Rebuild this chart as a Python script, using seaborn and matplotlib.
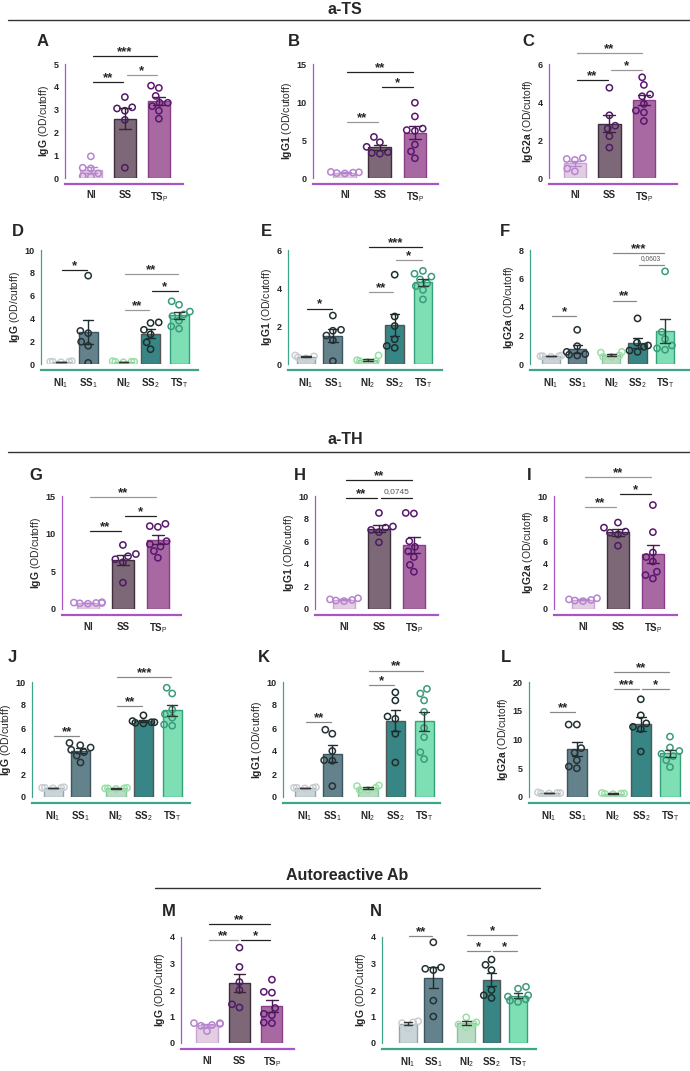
import warnings
import numpy as np
import pandas as pd
import matplotlib
matplotlib.use('Agg')
import matplotlib.pyplot as plt
import seaborn as sns
from matplotlib.ticker import MultipleLocator, AutoMinorLocator

warnings.filterwarnings('ignore')

# ---- data (individual animals, OD/cutoff) ----
labels3 = ['NI', 'SS', r'TS$_\mathrm{P}$']
labels5 = [r'NI$_1$', r'SS$_1$', r'NI$_2$', r'SS$_2$', r'TS$_\mathrm{T}$']
pos3 = [0, 1, 2]
pos5 = [0, 1, 2.3, 3.3, 4.35]

# a-TS
A_vals = [[0.95, 0.45, 0.42, 0.2, 0.05, 0.08],
          [3.55, 3.1, 3.05, 2.95, 2.55, 0.45],
          [4.05, 3.95, 3.6, 3.3, 3.3, 3.15, 2.95, 2.6]]
B_vals = [[0.8, 0.7, 0.65, 0.75, 0.6],
          [5.4, 4.7, 4.1, 3.4, 3.3, 3.2],
          [9.9, 8.1, 6.5, 6.3, 6.2, 4.4, 3.5, 2.6]]
C_vals = [[1.05, 1.0, 0.95, 0.5, 0.35],
          [4.75, 3.3, 2.75, 2.6, 2.2, 1.6],
          [5.3, 4.9, 4.4, 4.3, 3.9, 3.55, 3.45, 3.0]]
D_vals = [[0.25, 0.2, 0.2, 0.15, 0.2],
          [7.75, 2.9, 2.7, 1.95, 1.6, 0.1],
          [0.25, 0.2, 0.2, 0.15, 0.2],
          [3.65, 3.6, 3.0, 2.6, 1.9, 1.3],
          [5.5, 5.2, 4.6, 4.35, 4.2, 3.8, 3.3, 3.1]]
E_vals = [[0.45, 0.4, 0.35, 0.3],
          [2.55, 1.8, 1.75, 1.5, 1.25, 0.15],
          [0.45, 0.2, 0.15, 0.15, 0.1],
          [4.7, 2.5, 2.0, 1.3, 0.95, 0.85],
          [4.9, 4.75, 4.6, 4.45, 4.25, 4.1, 3.9, 3.4]]
F_vals = [[0.6, 0.55, 0.55, 0.5, 0.55],
          [2.4, 1.25, 0.85, 0.7, 0.65, 0.6],
          [0.85, 0.8, 0.6, 0.5, 0.5],
          [3.2, 1.5, 1.3, 1.2, 0.95, 0.85],
          [6.5, 2.25, 1.75, 1.3, 1.1, 1.0]]
# a-TH
G_vals = [[0.9, 0.85, 0.8, 0.8, 0.75, 0.7],
          [8.5, 7.3, 7.0, 6.6, 6.2, 3.5],
          [11.3, 11.0, 10.9, 9.0, 8.6, 8.3, 7.7, 6.8]]
H_vals = [[0.95, 0.85, 0.8, 0.75, 0.7],
          [8.5, 7.3, 7.2, 7.0, 6.8, 5.9],
          [8.5, 8.45, 6.0, 5.5, 5.1, 4.6, 3.9, 3.3]]
I_vals = [[0.95, 0.85, 0.8, 0.75, 0.7],
          [7.65, 7.2, 6.85, 6.75, 6.6, 5.6],
          [9.2, 6.8, 5.0, 4.6, 4.2, 3.3, 3.0, 2.7]]
J_vals = [[0.85, 0.8, 0.8, 0.75, 0.8],
          [4.7, 4.5, 4.3, 4.1, 3.9, 3.6, 3.0],
          [0.8, 0.75, 0.75, 0.7, 0.75],
          [7.1, 6.6, 6.5, 6.5, 6.45, 6.4],
          [9.5, 9.0, 7.6, 7.2, 6.9, 6.3, 6.2]]
K_vals = [[0.85, 0.8, 0.8, 0.75, 0.8],
          [5.85, 5.5, 4.0, 3.2, 3.15, 0.95],
          [1.0, 0.95, 0.8, 0.6, 0.6],
          [9.1, 8.4, 7.0, 6.8, 5.5, 3.0],
          [9.4, 9.0, 8.4, 7.4, 6.0, 5.2, 3.9, 3.3]]
L_vals = [[0.8, 0.7, 0.65, 0.7, 0.6],
          [12.6, 12.6, 8.5, 7.7, 6.4, 5.3, 5.0],
          [0.7, 0.6, 0.6, 0.55, 0.5],
          [17.0, 14.2, 12.8, 12.2, 11.8, 7.9],
          [10.5, 8.6, 8.0, 7.5, 7.1, 6.4, 5.2]]
# Autoreactive Ab
M_vals = [[0.75, 0.75, 0.72, 0.68, 0.65, 0.45],
          [3.6, 2.87, 2.3, 2.0, 1.46, 1.34],
          [2.39, 1.93, 1.9, 1.32, 1.1, 1.05, 0.77, 0.75]]
N_vals = [[0.82, 0.78, 0.75, 0.55],
          [3.8, 2.85, 2.8, 2.75, 1.6, 1.0],
          [0.97, 0.78, 0.72, 0.7, 0.6],
          [3.15, 2.95, 2.75, 2.0, 1.8, 1.7],
          [2.12, 2.05, 1.8, 1.75, 1.65, 1.6, 1.55]]

# significance bars: (group i, group j, height, label, line colour)
A_sig = [(0, 2, 5.35, '***', '#222'), (1, 2, 4.5, '*', '#999'), (0, 1, 4.2, '**', '#222')]
B_sig = [(0, 2, 13.9, '**', '#222'), (1, 2, 12.0, '*', '#222'), (0, 1, 7.4, '**', '#999')]
C_sig = [(0, 2, 6.6, '**', '#999'), (1, 2, 5.7, '*', '#999'), (0, 1, 5.15, '**', '#222')]
D_sig = [(0, 1, 8.26, '*', '#222'), (2, 4, 7.9, '**', '#999'), (3, 4, 6.4, '*', '#222'), (2, 3, 4.7, '**', '#999')]
E_sig = [(2, 4, 6.16, '***', '#222'), (3, 4, 5.47, '*', '#999'), (2, 3, 3.77, '**', '#999'), (0, 1, 2.92, '*', '#222')]
F_sig = [(2, 4, 7.8, '***', '#888'), (3, 4, 6.96, '0,0603', '#888'), (2, 3, 4.45, '**', '#888'), (0, 1, 3.34, '*', '#888')]
G_sig = [(0, 2, 14.9, '**', '#999'), (1, 2, 12.3, '*', '#222'), (0, 1, 10.4, '**', '#222')]
H_sig = [(0, 2, 11.4, '**', '#222'), (0, 1, 9.8, '**', '#222'), (1, 2, 9.8, '0,0745', '#222')]
I_sig = [(0, 2, 11.7, '**', '#999'), (1, 2, 10.2, '*', '#222'), (0, 1, 9.0, '**', '#999')]
J_sig = [(2, 4, 10.4, '***', '#888'), (2, 3, 7.9, '**', '#888'), (0, 1, 5.3, '**', '#888')]
K_sig = [(2, 4, 11.0, '**', '#888'), (2, 3, 9.7, '*', '#888'), (0, 1, 6.5, '**', '#888')]
L_sig = [(2, 4, 21.7, '**', '#888'), (2, 3, 18.8, '***', '#888'), (3, 4, 18.8, '*', '#888'), (0, 1, 14.8, '**', '#888')]
M_sig = [(0, 2, 4.49, '**', '#222'), (0, 1, 3.88, '**', '#999'), (1, 2, 3.88, '*', '#222')]
N_sig = [(0, 1, 4.04, '**', '#888'), (2, 4, 4.06, '*', '#888'), (2, 3, 3.48, '*', '#888'), (3, 4, 3.48, '*', '#888')]

# ---- styles ----
purple = dict(axis='#A855C8',
              face=['#E6C9E4', '#7F6579', '#B25FAA'],
              edge=['#C9A3D4', '#3F2E3E', '#8A3D88'],
              dots=['#B784CF', '#4F1A66', '#5A1670'],
              err=['#B784CF', '#3A2238', '#4A1A55'])
green = dict(axis='#3FA58A',
             face=['#C6D7DC', '#5D8592', '#B4E2C3', '#2A9291', '#6CF0B4'],
             edge=['#93A8AE', '#3C5560', '#86C49C', '#555555', '#36A27C'],
             dots=['#C8CED1', '#263236', '#9ADFA8', '#1E2E2E', '#3C9A7C'],
             err=['#333333', '#1F2D30', '#333333', '#1E2E2E', '#2A3A34'])

sns.set_style('white')
plt.rcParams['font.family'] = ['Liberation Sans', 'DejaVu Sans']
plt.rcParams['mathtext.fontset'] = 'custom'
plt.rcParams['mathtext.rm'] = 'Liberation Sans'
plt.rcParams['mathtext.bf'] = 'Liberation Sans:bold'
plt.rcParams['mathtext.it'] = 'Liberation Sans:italic'

W, H = 690, 1071
fig = plt.figure(figsize=(W / 100, H / 100), dpi=100)


def add_ax(left, right, top, bottom):
    return fig.add_axes([left / W, 1 - bottom / H, (right - left) / W, (bottom - top) / H])


def nearest(pos, x):
    return int(np.argmin([abs(p - x) for p in pos]))


def panel(box, vals, pos, labels, st, xlim, ymax, step, ylabel, sigs):
    ax = add_ax(*box)
    rows = []
    for i, v in enumerate(vals):
        for y in v:
            rows.append({'pos': pos[i], 'value': y, 'g': str(i)})
    df = pd.DataFrame(rows)
    order = [str(i) for i in range(len(vals))]
    w = 0.65 if len(vals) == 3 else 0.7
    sns.barplot(data=df, x='pos', y='value', hue='g', hue_order=order,
                palette=dict(zip(order, st['face'])), native_scale=True, dodge=False,
                width=w, errorbar='se', capsize=0.35, linewidth=1.0,
                err_kws={'linewidth': 1.0}, legend=False, ax=ax)
    for p in ax.patches:
        i = nearest(pos, p.get_x() + p.get_width() / 2)
        p.set_edgecolor(st['edge'][i])
        p.set_zorder(1)
    for ln in ax.lines:
        i = nearest(pos, np.nanmean(ln.get_xdata()))
        ln.set_color(st['err'][i])
        ln.set_zorder(4)
    sns.swarmplot(data=df, x='pos', y='value', hue='g', hue_order=order,
                  palette=dict(zip(order, st['dots'])), native_scale=True,
                  size=4.5, legend=False, ax=ax, zorder=3)
    for c in ax.collections:
        fc = c.get_facecolors()
        c.set_edgecolors(fc)
        c.set_facecolors('none')
        c.set_linewidth(1.1)

    ax.set_xlim(*xlim)
    ax.set_ylim(0, ymax)
    ax.set_xticks(pos)
    ax.set_xticklabels(labels)
    ax.yaxis.set_major_locator(MultipleLocator(step))
    ax.yaxis.set_minor_locator(AutoMinorLocator(2))
    for s in ['top', 'right']:
        ax.spines[s].set_visible(False)
    ax.spines['left'].set_color(st['axis'])
    ax.spines['left'].set_linewidth(0.9)
    ax.spines['left'].set_bounds(0, ymax)
    ax.spines['bottom'].set_color(st['axis'])
    ax.spines['bottom'].set_linewidth(1.6)
    ax.spines['bottom'].set_position(('outward', 4.5))
    ax.tick_params(axis='x', length=3, width=0.9, color=st['axis'], pad=1.5,
                   labelsize=7)
    ax.tick_params(axis='y', which='major', length=3, width=0.8, color=st['axis'],
                   pad=1.5, labelsize=6.5)
    ax.tick_params(axis='y', which='minor', length=1.6, width=0.7, color=st['axis'])
    for t in ax.get_xticklabels() + ax.get_yticklabels():
        t.set_fontweight('bold')
    ax.set_xlabel('')
    ax.set_ylabel(ylabel, fontsize=7.5, labelpad=2)
    ax.set_facecolor('none')

    for i, j, y, lab, col in sigs:
        ax.plot([pos[i] + 0.05, pos[j] - 0.05], [y, y], color=col, lw=0.9,
                clip_on=False, zorder=5)
        if lab.startswith('*'):
            ax.annotate(lab, xy=((pos[i] + pos[j]) / 2, y), xytext=(0, -1.5),
                        textcoords='offset points', ha='center', va='bottom',
                        fontsize=9.5, fontweight='bold', annotation_clip=False)
        else:
            fs = 6 if lab == '0,0745' else 4.8
            ax.annotate(lab, xy=((pos[i] + pos[j]) / 2, y), xytext=(0, 2),
                        textcoords='offset points', ha='center', va='bottom',
                        fontsize=fs, color='#555555', annotation_clip=False)
    return ax


yl = lambda ig, c='cutoff': r'$\mathbf{%s}$ (OD/%s)' % (ig, c)

panel((65, 183, 64, 178), A_vals, pos3, labels3, purple, (-0.76, 2.71), 5, 1, yl('IgG'), A_sig)
panel((313, 438, 64, 178), B_vals, pos3, labels3, purple, (-0.91, 2.66), 15, 5, yl('IgG1'), B_sig)
panel((549, 677, 64, 178), C_vals, pos3, labels3, purple, (-0.75, 2.96), 6, 2, yl('IgG2a'), C_sig)

panel((41, 198, 250, 364), D_vals, pos5, labels5, green, (-0.74, 5.05), 10, 2, yl('IgG'), D_sig)
panel((288, 442, 250, 364), E_vals, pos5, labels5, green, (-0.67, 5.06), 6, 2, yl('IgG1'), E_sig)
panel((530, 690, 250, 364), F_vals, pos5, labels5, green, (-0.8, 5.3), 8, 2, yl('IgG2a'), F_sig)

panel((62, 181, 496, 609), G_vals, pos3, labels3, purple, (-0.74, 2.66), 15, 5, yl('IgG'), G_sig)
panel((315, 438, 496, 609), H_vals, pos3, labels3, purple, (-0.83, 2.69), 10, 2, yl('IgG1'), H_sig)
panel((554, 677, 496, 609), I_vals, pos3, labels3, purple, (-0.83, 2.69), 10, 2, yl('IgG2a'), I_sig)

panel((32, 190, 682, 797), J_vals, pos5, labels5, green, (-0.77, 5.0), 10, 2, yl('IgG'), J_sig)
panel((283, 440, 682, 797), K_vals, pos5, labels5, green, (-0.8, 4.93), 10, 2, yl('IgG1'), K_sig)
panel((529, 690, 682, 797), L_vals, pos5, labels5, green, (-0.72, 5.07), 20, 5, yl('IgG2a'), L_sig)

panel((181, 294, 937, 1043), M_vals, pos3, labels3, purple, (-0.8, 2.68), 4, 1, yl('IgG', 'Cutoff'), M_sig)
panel((382, 536, 937, 1043), N_vals, pos5, labels5, green, (-1.03, 5.06), 4, 1, yl('IgG', 'Cutoff'), N_sig)

# section headers
for txt, xc, yt, yline, x0, x1 in [('a-TS', 345, 9, 20, 8, 690),
                                   ('a-TH', 345, 440, 452, 8, 690),
                                   ('Autoreactive Ab', 347, 875, 888, 155, 540)]:
    fig.text(xc / W, 1 - yt / H, txt, ha='center', va='center', fontsize=11.5, fontweight='bold')
    fig.add_artist(plt.Line2D([x0 / W, x1 / W], [1 - yline / H] * 2, color='#333333', lw=1.0))

# panel letters
letters = [('A', 37, 42), ('B', 288, 42), ('C', 522, 42),
           ('D', 12, 232), ('E', 261, 232), ('F', 500, 232),
           ('G', 29, 475), ('H', 294, 475), ('I', 527, 475),
           ('J', 8, 658), ('K', 258, 658), ('L', 501, 658),
           ('M', 162, 912), ('N', 370, 912)]
for lab, x, y in letters:
    fig.text(x / W, 1 - y / H, lab, ha='left', va='center', fontsize=12, fontweight='bold')

fig.savefig('out.png', dpi=100)
